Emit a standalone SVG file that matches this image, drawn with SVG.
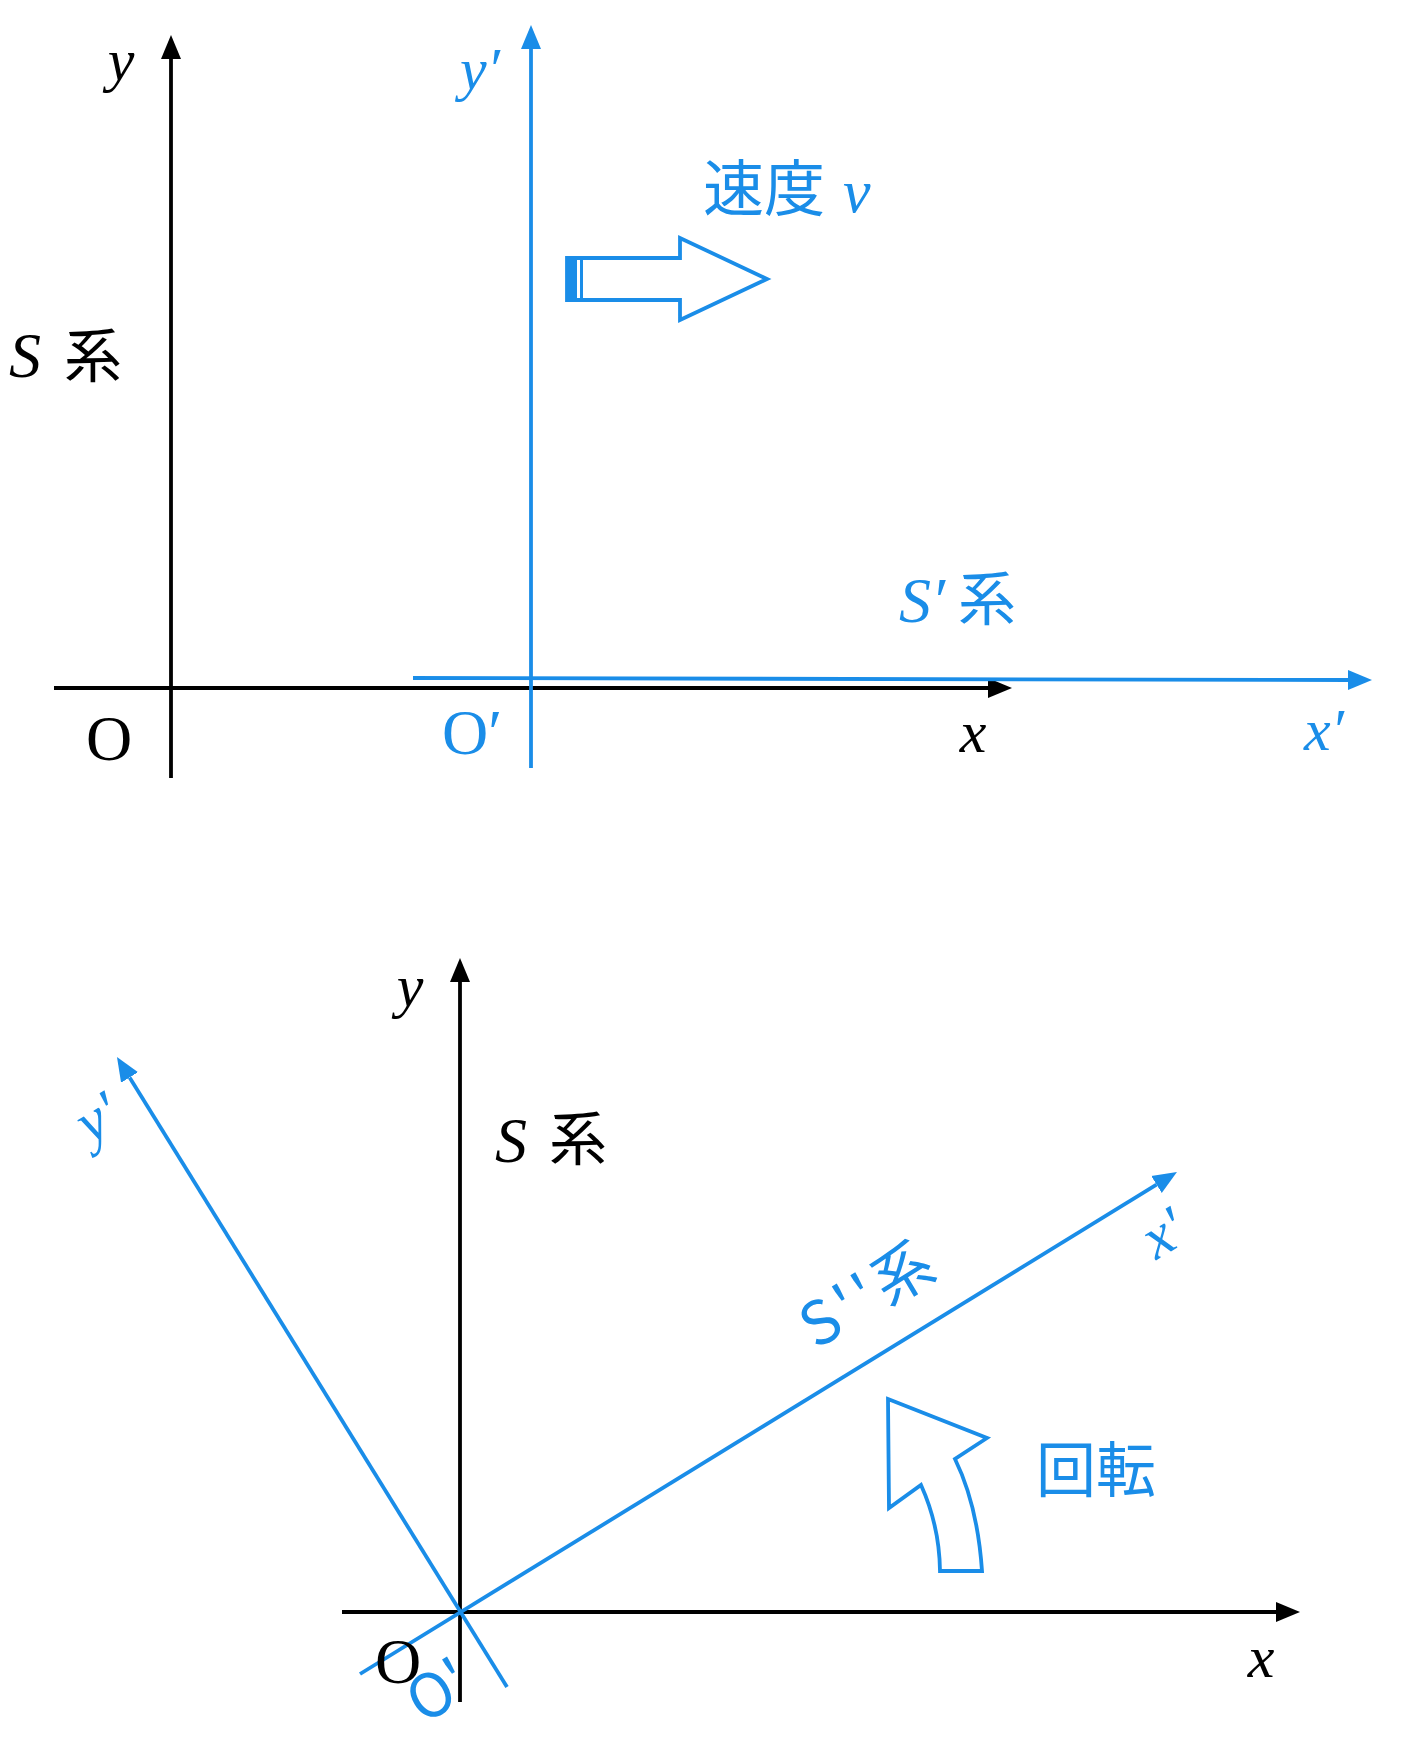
<svg xmlns="http://www.w3.org/2000/svg" width="1416" height="1745" viewBox="0 0 1416 1745">
<style>
.k{stroke:#000;stroke-width:3.8;fill:none}
.b{stroke:#1a8de8;stroke-width:3.8;fill:none}
.m{font-family:"Liberation Serif","DejaVu Serif",serif;font-style:italic}
.r{font-family:"Liberation Serif","DejaVu Serif",serif}
.j{font-family:"Noto Sans CJK JP","Noto Sans",sans-serif}
.tk{fill:#000}
.tb{fill:#1a8de8}
</style>
<defs>
<marker id="ak" markerUnits="userSpaceOnUse" markerWidth="26" markerHeight="22" refX="0" refY="10" orient="auto" viewBox="0 0 26 20">
<path d="M0,0 L24,10 L0,20 Z" fill="#000"/>
</marker>
<marker id="ab" markerUnits="userSpaceOnUse" markerWidth="26" markerHeight="22" refX="0" refY="10" orient="auto" viewBox="0 0 26 20">
<path d="M0,0 L24,10 L0,20 Z" fill="#1a8de8"/>
</marker>
</defs>
<rect x="0" y="0" width="1416" height="1745" fill="#fff"/>
<g id="connectors">
<line class="k" x1="171" y1="778" x2="171" y2="59" marker-end="url(#ak)"/>
<line class="k" x1="54" y1="688" x2="988" y2="688" marker-end="url(#ak)"/>
<line class="b" x1="531" y1="768" x2="531" y2="49" marker-end="url(#ab)"/>
<line class="b" x1="413" y1="678" x2="1348" y2="680" marker-end="url(#ab)"/>
<line class="k" x1="460" y1="1702" x2="460" y2="982" marker-end="url(#ak)"/>
<line class="k" x1="342" y1="1612" x2="1276" y2="1612" marker-end="url(#ak)"/>
<line class="b" x1="360" y1="1674" x2="1156.5" y2="1184.6" marker-end="url(#ab)"/>
<line class="b" x1="507" y1="1687" x2="129.6" y2="1077.4" marker-end="url(#ab)"/>
</g>
<g id="velocity-arrow">
<polygon class="b" points="567,258 680,258 680,238 767,279 680,320 680,300 567,300"/>
<rect x="567" y="258" width="10" height="42" fill="#1a8de8"/>
<line x1="581.5" y1="258" x2="581.5" y2="300" stroke="#1a8de8" stroke-width="3"/>
</g>
<g id="rotation-arrow">
<path class="b" d="M888,1399 L987,1438 L955,1459 Q977.5,1505 982,1571 L940,1571 Q939.5,1526 921,1485 L889,1508 Z" stroke-width="4"/>
</g>
<g id="top-labels">
<text class="m tk" x="121" y="80" font-size="60" text-anchor="middle">y</text>
<text class="m tb" x="460" y="89" font-size="60">y′</text>
<text class="m tk" x="9" y="377" font-size="64">S</text>
<text class="j tk" x="64" y="377" font-size="58">系</text>
<text class="r tk" x="109" y="760" font-size="64" text-anchor="middle">O</text>
<text class="r tb" x="442" y="754" font-size="64">O′</text>
<text class="m tk" x="973" y="752" font-size="60" text-anchor="middle">x</text>
<text class="m tb" x="1304" y="750" font-size="60">x′</text>
<text class="m tb" x="899" y="622" font-size="64">S′</text>
<text class="j tb" x="958" y="620" font-size="58">系</text>
<text class="j tb" x="703" y="211" font-size="61">速度</text>
<text class="m tb" x="843" y="212" font-size="62">v</text>
</g>
<g id="bottom-labels">
<text class="m tk" x="410" y="1006" font-size="60" text-anchor="middle">y</text>
<text class="m tk" x="495" y="1162" font-size="64">S</text>
<text class="j tk" x="549" y="1160" font-size="58">系</text>
<text class="r tk" x="398" y="1683" font-size="64" text-anchor="middle">O</text>
<text class="r tk" x="1261" y="1677" font-size="60" text-anchor="middle" font-style="italic">x</text>
<text class="j tb" x="1036" y="1492" font-size="60">回転</text>
<text class="j tb" font-size="60" text-anchor="middle" transform="translate(439,1692) rotate(-31)" dy="20">O'</text>
<text class="m tb" font-size="60" text-anchor="middle" transform="translate(1166,1238) rotate(-31)" dy="14">x'</text>
<text class="m tb" font-size="60" text-anchor="middle" transform="translate(102,1126) rotate(-31)" dy="10">y'</text>
<text class="j tb" font-size="60" letter-spacing="5" transform="translate(816,1350) rotate(-31)">S''系</text>
</g>
</svg>
